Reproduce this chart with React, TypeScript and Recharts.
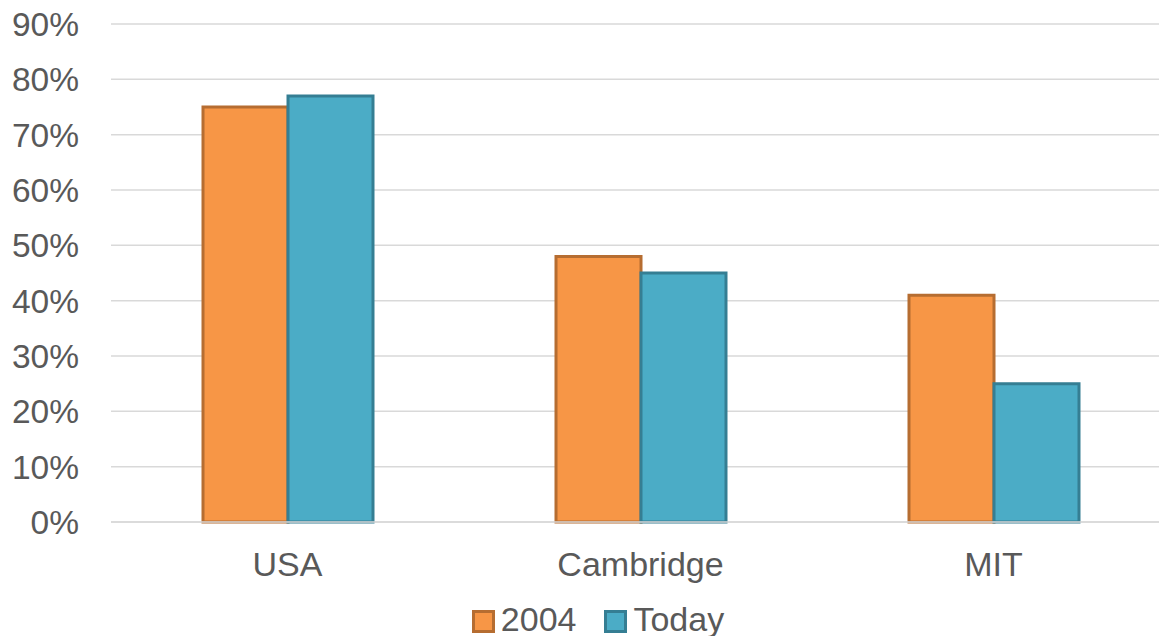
import { BarChart, Bar, XAxis, YAxis, CartesianGrid } from "recharts"

const categories = ["USA", "Cambridge", "MIT"]
const values2004 = [0.75, 0.48, 0.41]
const valuesToday = [0.77, 0.45, 0.25]
const yTicks = [0, 0.1, 0.2, 0.3, 0.4, 0.5, 0.6, 0.7, 0.8, 0.9]

const data = categories.map((name, i) => ({
  name,
  y2004: values2004[i],
  today: valuesToday[i],
}))

const textColor = "#595959"
const fontFamily = "'Liberation Sans', Arial, sans-serif"

const series = [
  { key: "y2004", label: "2004", fill: "#F79646", stroke: "#B66D31" },
  { key: "today", label: "Today", fill: "#4BACC6", stroke: "#357E93" },
]

export default function App() {
  return (
    <div
      style={{
        position: "fixed",
        top: 0,
        left: 0,
        width: 1159,
        height: 636,
        overflow: "hidden",
        background: "#fff",
        fontFamily,
      }}
    >
      <BarChart
        width={1196}
        height={636}
        data={data}
        margin={{ top: 24, right: 26, bottom: 0, left: 0 }}
        barSize={85}
        barGap={0}
      >
        <CartesianGrid vertical={false} stroke="#d9d9d9" strokeWidth={1.5} />
        <XAxis
          dataKey="name"
          height={114}
          tickLine={false}
          tickSize={0}
          tickMargin={30}
          axisLine={{ stroke: "#d9d9d9", strokeWidth: 1.5 }}
          tick={{ fill: textColor, fontSize: 34, fontFamily }}
        />
        <YAxis
          width={111}
          domain={[0, 0.9]}
          ticks={yTicks}
          interval={0}
          tickLine={false}
          axisLine={false}
          tickSize={0}
          tickMargin={32}
          tickFormatter={(v) => `${Math.round(v * 100)}%`}
          tick={{ fill: textColor, fontSize: 33.5, fontFamily }}
        />
        {series.map((s) => (
          <Bar
            key={s.key}
            dataKey={s.key}
            fill={s.fill}
            stroke={s.stroke}
            strokeWidth={3}
            isAnimationActive={false}
          />
        ))}
      </BarChart>
      <div
        style={{
          position: "absolute",
          top: 602,
          left: 0,
          width: 1196,
          display: "flex",
          justifyContent: "center",
          color: textColor,
          fontSize: 34,
          lineHeight: "34px",
        }}
      >
        {series.map((s, i) => (
          <div key={s.key} style={{ display: "flex", alignItems: "flex-start", marginLeft: i ? 28 : 0 }}>
            <span
              style={{
                display: "inline-block",
                width: 17,
                height: 17,
                marginTop: 8,
                marginRight: 6,
                background: s.fill,
                border: `3px solid ${s.stroke}`,
              }}
            />
            <span>{s.label}</span>
          </div>
        ))}
      </div>
    </div>
  )
}
